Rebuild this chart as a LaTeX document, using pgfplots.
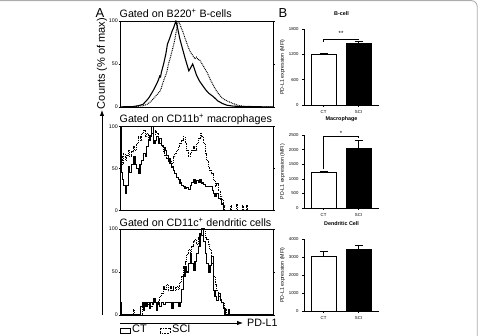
\documentclass[border=0pt]{standalone}
\usepackage{pgfplots}
\pgfplotsset{compat=1.18}
\usepackage{fontspec}
\setmainfont{Liberation Sans}
\usetikzlibrary{arrows.meta}
\pgfplotsset{
  /pgf/number format/assume math mode=true,
  /pgf/number format/1000 sep={},
  hist/.style={scale only axis, width=153pt, height=86pt, anchor=south west,
    xmin=0, xmax=100, ymin=0, ymax=100, xtick=\empty, ytick={0,50,100},
    tick label style={font=\fontsize{5.3}{5.3}\selectfont},
    axis line style={line width=0.9pt}, tick style={line width=0.5pt, black},
    major tick length=1.5pt, tick align=outside,
    yticklabel style={inner sep=0.5pt}},
  ct/.style={black, line width=1.1pt},
  sci/.style={black, line width=1.0pt, dash pattern=on 0.9pt off 0.9pt},
  bars/.style={scale only axis, width=75pt, anchor=south west,
    xmin=-0.557, xmax=1.584, ymin=0,
    axis x line*=bottom, axis y line*=left,
    xtick={0,1}, xticklabels={CT,SCI},
    tick label style={font=\fontsize{4.3}{4.3}\selectfont},
    tick align=outside, major tick length=2pt,
    axis line style={line width=0.6pt}, tick style={line width=0.5pt,black},
    ylabel={PD-L1 expression (MFI)},
    ylabel style={font=\fontsize{5.2}{5.2}\selectfont, yshift=-3pt},
    title style={font=\bfseries\fontsize{5.4}{5.4}\selectfont, yshift=4pt},
    scaled y ticks=false, clip=false,
    error bars/error bar style={line width=0.6pt, black},
    error bars/error mark options={rotate=90, mark size=4pt, line width=0.6pt, black}},
  ctbar/.style={ybar, bar shift=0pt, bar width=0.713, fill=white, draw=black, line width=0.6pt,
    error bars/.cd, y dir=plus, y explicit},
  scibar/.style={ybar, bar shift=0pt, bar width=0.713, fill=black, draw=black, line width=0.6pt,
    error bars/.cd, y dir=plus, y explicit}
}
\begin{document}
\begin{tikzpicture}[x=1pt,y=1pt]
\useasboundingbox (0,0) rectangle (478,336);
\draw[gray!65, line width=0.9pt, rounded corners=6pt] (-5,335.4) -- (477.2,335.4) -- (477.2,-5);

% ---------- Panel A, histogram 1 ----------
\begin{axis}[hist, at={(120pt,229pt)}]
\addplot[sci] coordinates {
(0,0) (10,0.5) (15,1.5) (17.6,3) (20,6) (22,10) (24,14) (26,18) (27,22) (28,28) (29,33)
(30.5,40) (32,52) (33,58) (34,65) (35,72) (36,80) (37,90) (38,100) (39,97) (40,92) (41,88)
(42.5,80) (43.5,75) (44.5,70) (46,64) (47.5,60) (49,56) (50,58) (51,55) (52,55) (53,52)
(54,49) (55,46) (57,40) (59,32) (61,25) (63,19) (65,14) (67,10) (70,7) (74,4) (78,1.5)
(82,0.8) (90,0.3) (100,0)};
\addplot[ct] coordinates {
(0,0) (5,0.5) (8.5,0.5) (12,1.5) (15,3) (17.6,8) (19,11) (20,14) (22,20) (24,27) (25,31)
(26,36) (26.5,35) (27,40) (28.5,50) (30,62) (31,73) (32.5,80) (34,88) (35,92) (36.5,100)
(37.5,93) (39,80) (40.5,70) (42.5,57) (44,48) (45,42) (46,45) (47.5,50) (48.5,45) (50,37)
(52,30) (54,25) (56,20) (58,16) (61,12) (64,7) (67,4) (70,2) (74,1) (80,0.5) (90,0.3) (100,0)};
\end{axis}

% ---------- histogram 2 ----------
\begin{axis}[hist, at={(120pt,125.3pt)}, height=84pt]
\addplot[sci, const plot] coordinates {
(0,100) (0.7,64) (1.5,55) (2.2,68) (3.3,60) (4.3,66) (5.4,72) (6.5,64) (7.6,70) (8.7,76)
(9.8,72) (10.9,80) (12,88) (13.1,84) (14.2,92) (15.3,96) (16.4,88) (17.4,92) (18.5,84)
(19.6,88) (20.7,92) (21.8,90) (22.9,96) (24,92) (25,86) (26.1,80) (27.2,76) (28.3,70)
(29.4,66) (30.5,62) (31.6,58) (32.7,60) (33.8,56) (34.9,64) (35.9,68) (37,72) (38.1,76)
(39.2,80) (40.3,84) (41.4,88) (42.5,80) (43.6,72) (44.7,64) (45.8,68) (46.9,72) (47.9,76)
(49,72) (50.1,80) (51.2,86) (52.3,92) (53.4,88) (54.5,80) (55.6,68) (56.6,60) (57.7,52)
(58.8,48) (59.9,44) (61,36) (62.1,29) (63.2,32) (64.3,24) (65.4,17) (66.4,13) (67.5,6)
(68.6,0) (71.5,0) (72,6) (72.6,0) (75.7,0) (76.2,7) (76.8,0) (79.5,0) (80,6) (80.6,0)
(82.3,0) (82.8,6) (83.4,0) (100,0)};
\addplot[ct, const plot] coordinates {
(0,100) (0.7,45) (1.5,37) (2.2,30) (3.3,21) (4.3,30) (5.4,52) (6.5,45) (7.6,55) (8.7,64)
(9.8,55) (10.9,50) (12,44) (13.1,55) (14.2,60) (15.3,68) (16.4,64) (17.4,76) (18.5,84)
(19.6,90) (20.7,100) (21.8,80) (22.9,84) (24,88) (25,80) (26.1,86) (27.2,78) (28.3,75)
(29.4,72) (30.5,66) (31.6,62) (32.7,56) (33.8,52) (34.9,48) (35.9,44) (37,40) (38.1,37)
(39.2,33) (40.3,30) (41.4,29) (42.5,26) (43.6,28) (44.7,25) (45.8,30) (46.9,34) (47.9,37)
(49,33) (50.1,36) (51.2,34) (52.3,37) (53.4,33) (54.5,31) (55.6,29) (59.9,29) (60.5,24)
(61,21) (62.1,17) (63.2,20) (64.3,14) (65.4,13) (66.4,8) (67.5,0) (100,0)};
\end{axis}

% ---------- histogram 3 ----------
\begin{axis}[hist, at={(120pt,21pt)}]
\addplot[sci, const plot] coordinates {
(0,0) (8.5,0) (8.7,6) (9.3,0) (14.2,0) (14.6,10) (15.5,15) (17,12) (18.5,15) (20,10)
(21,15) (22.9,15) (24,12) (25.1,17) (26.1,22) (27.2,25) (28.3,33) (29.4,30) (30.5,35)
(31.6,28) (32.7,33) (33.8,29) (34.9,33) (36,29) (37,33) (38.1,30) (39.2,38) (40.3,45)
(41.4,56) (42.5,62) (43.6,70) (44.7,76) (45.8,72) (46.9,80) (47.9,85) (49,88) (50.1,82)
(51.2,90) (52.3,95) (53.4,92) (54.5,100) (55.6,90) (56.6,88) (57.7,82) (58.8,76) (59.9,60)
(61,45) (62.1,35) (63.2,28) (64.3,21) (65.4,18) (66.4,14) (67.5,14) (68.6,8) (69.7,0) (100,0)};
\addplot[ct, const plot] coordinates {
(0,0) (0.2,14) (0.8,0) (13.1,0) (13.6,10) (14.5,15) (15.5,5) (16,15) (17,10) (18,15) (19,8)
(20,15) (21,12) (22,19) (22.9,15) (24,5) (24.5,15) (26,10) (27.2,15) (28.5,12) (30,15)
(32.7,15) (34,8) (35,15) (37,15) (38,10) (39.2,15) (40.3,30) (41.4,45) (42.5,56) (43.6,50)
(44.7,60) (45.8,72) (46.9,60) (47.9,52) (49,62) (50.1,72) (51.2,80) (52.3,95) (53.4,100)
(54.5,85) (55.6,72) (56.6,60) (57.7,49) (58.8,58) (59.9,68) (61,29) (62.1,22) (63.2,17)
(64.3,25) (65.4,17) (66.4,15) (67.5,8) (68.6,0) (70.3,0) (70.8,6) (71.4,0) (100,0)};
\end{axis}

% ---------- panel A decorations ----------
\node[font=\fontsize{13}{13}\selectfont, anchor=base] at (100,318) {A};
\node[font=\fontsize{10.7}{10.7}\selectfont, anchor=base west, inner sep=0pt] at (119.5,318.5) {Gated on B220\textsuperscript{+} B-cells};
\node[font=\fontsize{10.7}{10.7}\selectfont, anchor=base west, inner sep=0pt] at (119.5,213.5) {Gated on CD11b\textsuperscript{+} macrophages};
\node[font=\fontsize{10.7}{10.7}\selectfont, anchor=base west, inner sep=0pt] at (119.5,109.5) {Gated on CD11c\textsuperscript{+} dendritic cells};
\node[font=\fontsize{11}{11}\selectfont, rotate=90, inner sep=0pt] at (102,272.5) {Counts (\% of max)};
\draw[line width=0.8pt, -{Latex[length=6pt,width=4.5pt]}] (102,21) -- (102,226);
\draw[line width=0.8pt, -{Latex[length=6pt,width=4.5pt]}] (120,13) -- (243,13);
\node[font=\fontsize{10.7}{10.7}\selectfont, anchor=west, inner sep=0pt] at (247,13) {PD-L1};
\draw[line width=0.9pt] (120,3) rectangle (130,8);
\node[font=\fontsize{11}{11}\selectfont, anchor=base west, inner sep=0pt] at (132,3) {CT};
\draw[line width=0.8pt, dash pattern=on 0.8pt off 0.8pt] (160,3) rectangle (170,8);
\node[font=\fontsize{11}{11}\selectfont, anchor=base west, inner sep=0pt] at (172,3) {SCI};

% ---------- Panel B ----------
\node[font=\fontsize{13}{13}\selectfont, anchor=base] at (283,318) {B};

\begin{axis}[bars, at={(304pt,231pt)}, height=76pt, ymax=1800, ytick={0,600,1200,1800}, title={B-cell}]
\addplot[ctbar] coordinates {(0,1190) +- (0,25)};
\addplot[scibar] coordinates {(1,1460) +- (0,55)};
\draw[line width=0.5pt] (axis cs:0,1490) -- (axis cs:0,1560) -- (axis cs:1,1560) -- (axis cs:1,1530);
\node[font=\fontsize{6}{6}\selectfont] at (axis cs:0.5,1690) {**};
\end{axis}

\begin{axis}[bars, at={(304pt,128pt)}, height=73pt, ymax=2500, ytick={0,500,1000,1500,2000,2500}, title={Macrophage}]
\addplot[ctbar] coordinates {(0,1230) +- (0,35)};
\addplot[scibar] coordinates {(1,2050) +- (0,280)};
\draw[line width=0.5pt] (axis cs:0,1330) -- (axis cs:0,2440) -- (axis cs:1,2440) -- (axis cs:1,2380);
\node[font=\fontsize{6}{6}\selectfont] at (axis cs:0.5,2560) {*};
\end{axis}

\begin{axis}[bars, at={(304pt,25pt)}, height=72pt, ymax=4000, ytick={0,1000,2000,3000,4000}, title={Dendritic Cell}]
\addplot[ctbar] coordinates {(0,3050) +- (0,250)};
\addplot[scibar] coordinates {(1,3450) +- (0,220)};
\end{axis}
\end{tikzpicture}
\end{document}
